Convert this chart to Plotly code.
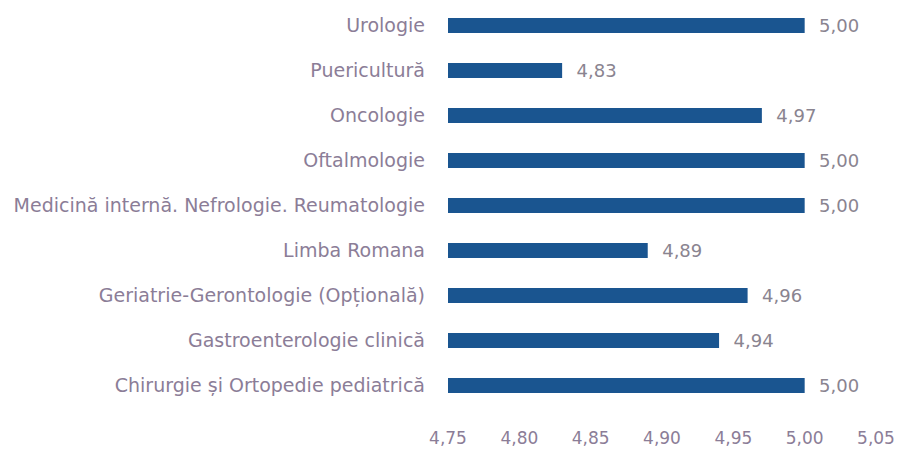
import plotly.graph_objects as go

categories = [
    "Chirurgie și Ortopedie pediatrică",
    "Gastroenterologie clinică",
    "Geriatrie-Gerontologie (Opțională)",
    "Limba Romana",
    "Medicină internă. Nefrologie. Reumatologie",
    "Oftalmologie",
    "Oncologie",
    "Puericultură",
    "Urologie",
]
values = [5.00, 4.94, 4.96, 4.89, 5.00, 5.00, 4.97, 4.83, 5.00]
tick_vals = [4.75, 4.80, 4.85, 4.90, 4.95, 5.00, 5.05]

bar_color = "#1a5590"
label_color = "#8b7d97"
font_family = "'DejaVu Sans', sans-serif"

fig = go.Figure(
    go.Bar(
        x=[v - 4.75 for v in values],
        base=4.75,
        y=categories,
        orientation="h",
        width=0.33,
        marker=dict(color=bar_color, line=dict(width=0)),
        text=[f"{v:.2f}".replace(".", ",") for v in values],
        texttemplate="  %{text}",
        textposition="outside",
        constraintext="none",
        textfont=dict(color="#8a8490", size=18, family=font_family),
        cliponaxis=False,
        hoverinfo="skip",
    )
)

fig.update_layout(
    width=897,
    height=450,
    margin=dict(l=448, r=21, t=3, b=42),
    paper_bgcolor="white",
    plot_bgcolor="white",
    showlegend=False,
    separators=",.",
    font=dict(family=font_family, size=17, color=label_color),
    xaxis=dict(
        range=[4.75, 5.05],
        tickvals=tick_vals,
        tickformat=".2f",
        showgrid=False,
        zeroline=False,
        showline=False,
        ticks="",
        automargin=False,
        tickfont=dict(size=17, color=label_color),
        ticklabelstandoff=18,
    ),
    yaxis=dict(
        categoryorder="array",
        categoryarray=categories,
        showgrid=False,
        zeroline=False,
        showline=False,
        ticks="",
        automargin=False,
        ticklabelstandoff=22,
        tickfont=dict(size=19, color=label_color),
    ),
)

fig.write_html(
    "out.html",
    config={"displayModeBar": False},
    post_script="document.body.style.margin='0';",
)
